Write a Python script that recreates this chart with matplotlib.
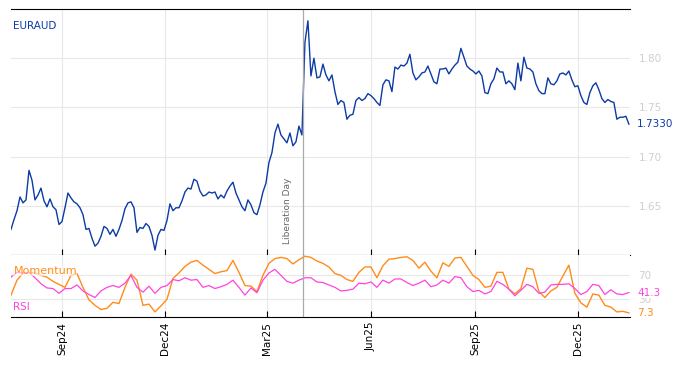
import matplotlib
matplotlib.use("Agg")
import matplotlib.pyplot as plt
import matplotlib.dates as mdates
import pandas as pd

price = [
    1.626, 1.636, 1.645, 1.659, 1.653, 1.656, 1.686, 1.676, 1.656, 1.661,
    1.668, 1.655, 1.649, 1.657, 1.649, 1.646, 1.631, 1.634, 1.648, 1.663,
    1.658, 1.654, 1.652, 1.648, 1.641, 1.626, 1.627, 1.617, 1.609, 1.612,
    1.619, 1.629, 1.627, 1.621, 1.626, 1.619, 1.626, 1.635, 1.647, 1.653,
    1.654, 1.648, 1.623, 1.628, 1.627, 1.632, 1.629, 1.620, 1.605, 1.620,
    1.626, 1.625, 1.635, 1.652, 1.645, 1.648, 1.648, 1.655, 1.664, 1.668,
    1.667, 1.677, 1.675, 1.665, 1.660, 1.661, 1.664, 1.663, 1.664, 1.657,
    1.661, 1.658, 1.665, 1.670, 1.674, 1.663, 1.656, 1.649, 1.645, 1.656,
    1.651, 1.643, 1.641, 1.651, 1.664, 1.673, 1.694, 1.704, 1.724, 1.733,
    1.722, 1.718, 1.714, 1.724, 1.711, 1.715, 1.731, 1.722, 1.816, 1.838,
    1.782, 1.800, 1.780, 1.781, 1.794, 1.783, 1.777, 1.783, 1.766, 1.753,
    1.757, 1.755, 1.738, 1.742, 1.743, 1.757, 1.760, 1.757, 1.759, 1.764,
    1.762, 1.759, 1.755, 1.752, 1.773, 1.778, 1.777, 1.766, 1.791, 1.789,
    1.793, 1.792, 1.795, 1.804, 1.785, 1.778, 1.781, 1.785, 1.786, 1.792,
    1.784, 1.776, 1.774, 1.789, 1.789, 1.790, 1.784, 1.789, 1.793, 1.796,
    1.810, 1.801, 1.792, 1.789, 1.787, 1.784, 1.787, 1.782, 1.765, 1.764,
    1.774, 1.779, 1.790, 1.786, 1.786, 1.774, 1.777, 1.774, 1.768, 1.795,
    1.777, 1.801, 1.790, 1.789, 1.786, 1.774, 1.767, 1.764, 1.764, 1.780,
    1.774, 1.773, 1.777, 1.784, 1.785, 1.783, 1.787, 1.778, 1.771, 1.772,
    1.762, 1.755, 1.753, 1.765, 1.772, 1.775, 1.768, 1.759, 1.755, 1.758,
    1.756, 1.755, 1.738, 1.740, 1.740, 1.741, 1.733,
]

# indicators, sampled about every fourth trading day
momentum = [
    37, 62, 74, 75, 74, 70, 67, 60, 55, 50, 70, 73, 50, 29, 20, 13, 15, 25,
    23, 50, 72, 62, 20, 22, 9, 19, 30, 65, 74, 85, 92, 95, 87, 80, 73, 76,
    78, 95, 75, 53, 52, 43, 70, 90, 98, 100, 98, 89, 96, 102, 100, 94, 90,
    84, 73, 70, 63, 60, 75, 84, 84, 66, 86, 97, 98, 100, 101, 95, 82, 92,
    77, 66, 91, 85, 99, 100, 85, 70, 63, 50, 52, 75, 75, 47, 39, 48, 82,
    80, 43, 33, 44, 50, 69, 87, 40, 24, 17, 39, 37, 20, 17, 9, 10, 7.3,
]
rsi = [
    67, 75, 74, 75, 66, 56, 49, 48, 40, 48, 48, 54, 44, 38, 33, 44, 50, 53,
    50, 57, 70, 50, 42, 52, 40, 50, 53, 63, 61, 66, 62, 63, 50, 53, 48, 51,
    55, 62, 50, 37, 49, 41, 62, 74, 80, 70, 60, 57, 62, 66, 66, 59, 58, 54,
    50, 44, 45, 47, 57, 56, 59, 50, 62, 57, 64, 64, 58, 53, 57, 62, 51, 54,
    62, 57, 68, 66, 51, 43, 45, 39, 43, 60, 55, 47, 36, 45, 55, 51, 40, 42,
    54, 55, 55, 56, 48, 38, 43, 55, 53, 38, 46, 39, 38, 41.3,
]

start, end = "2024-07-18", "2026-01-15"
event_date = pd.Timestamp("2025-04-02")
event_label = "Liberation Day"
symbol = "EURAUD"

dates = pd.date_range(start, end, periods=len(price))
ind_dates = pd.date_range(start, end, periods=len(momentum))

blue = "#0c3ba6"
orange = "#ff8c1a"
magenta = "#ff44dd"
light = "#cfcfcf"
grid = "#e8e8e8"

fig = plt.figure(figsize=(6.81, 3.66), dpi=100)
ax = fig.add_axes([11 / 681, 1 - 255 / 366, 619 / 681, 246 / 366])
ax2 = fig.add_axes([11 / 681, 1 - 317 / 366, 619 / 681, 62 / 366], sharex=ax)

xlim = (pd.Timestamp(start), pd.Timestamp("2026-01-16"))

# price panel
ax.plot(dates, price, color=blue, lw=1.0)
ax.set_xlim(xlim)
ax.set_ylim(1.60, 1.85)
ax.set_yticks([1.65, 1.70, 1.75, 1.80])
ax.yaxis.tick_right()
ax.tick_params(axis="y", length=0, labelcolor=light, labelsize=7.5, pad=6)
ax.tick_params(axis="x", direction="in", length=4, labelbottom=False)
ax.grid(True, color=grid, lw=0.8)
for s in ["left", "right"]:
    ax.spines[s].set_visible(False)
ax.text(0.004, 0.92, symbol, transform=ax.transAxes, color=blue, fontsize=7.5)
ax.annotate(f"{price[-1]:.4f}", xy=(1, price[-1]), xycoords=("axes fraction", "data"),
            xytext=(5, 0), textcoords="offset points", va="center",
            color=blue, fontsize=7.5)

# indicator panel
ax2.plot(ind_dates, momentum, color=orange, lw=1.0)
ax2.plot(ind_dates, rsi, color=magenta, lw=0.9)
ax2.set_ylim(0.5, 104)
ax2.set_yticks([30, 70])
ax2.yaxis.tick_right()
ax2.tick_params(axis="y", length=0, labelcolor=light, labelsize=7.5, pad=6)
ax2.grid(True, color=grid, lw=0.8)
for s in ["left", "right", "top"]:
    ax2.spines[s].set_visible(False)
ax2.xaxis.set_major_locator(mdates.MonthLocator(bymonth=[3, 6, 9, 12]))
ax2.xaxis.set_major_formatter(mdates.DateFormatter("%b%y"))
ax2.tick_params(axis="x", direction="in", length=4, labelsize=7.5, labelrotation=90)
ax2.text(0.004, 0.7, "Momentum", transform=ax2.transAxes, color=orange, fontsize=8,
         bbox=dict(facecolor="white", edgecolor="none", alpha=0.6, pad=0))
ax2.text(0.004, 0.12, "RSI", transform=ax2.transAxes, color=magenta, fontsize=7.5)
for val, col in [(rsi[-1], magenta), (momentum[-1], orange)]:
    ax2.annotate(f"{val:.1f}", xy=(1, val), xycoords=("axes fraction", "data"),
                 xytext=(5, 0), textcoords="offset points", va="center",
                 color=col, fontsize=7.5,
                 bbox=dict(facecolor="white", edgecolor="none", pad=0.5))

# event marker
for a in (ax, ax2):
    a.axvline(event_date, color="#aaaaaa", lw=0.9)
ax.annotate(event_label, xy=(event_date, 1.60), xytext=(-8, 8),
            textcoords="offset points", rotation=90, ha="right", va="bottom",
            color="#666666", fontsize=6.5)

fig.savefig("out.png", dpi=100)
